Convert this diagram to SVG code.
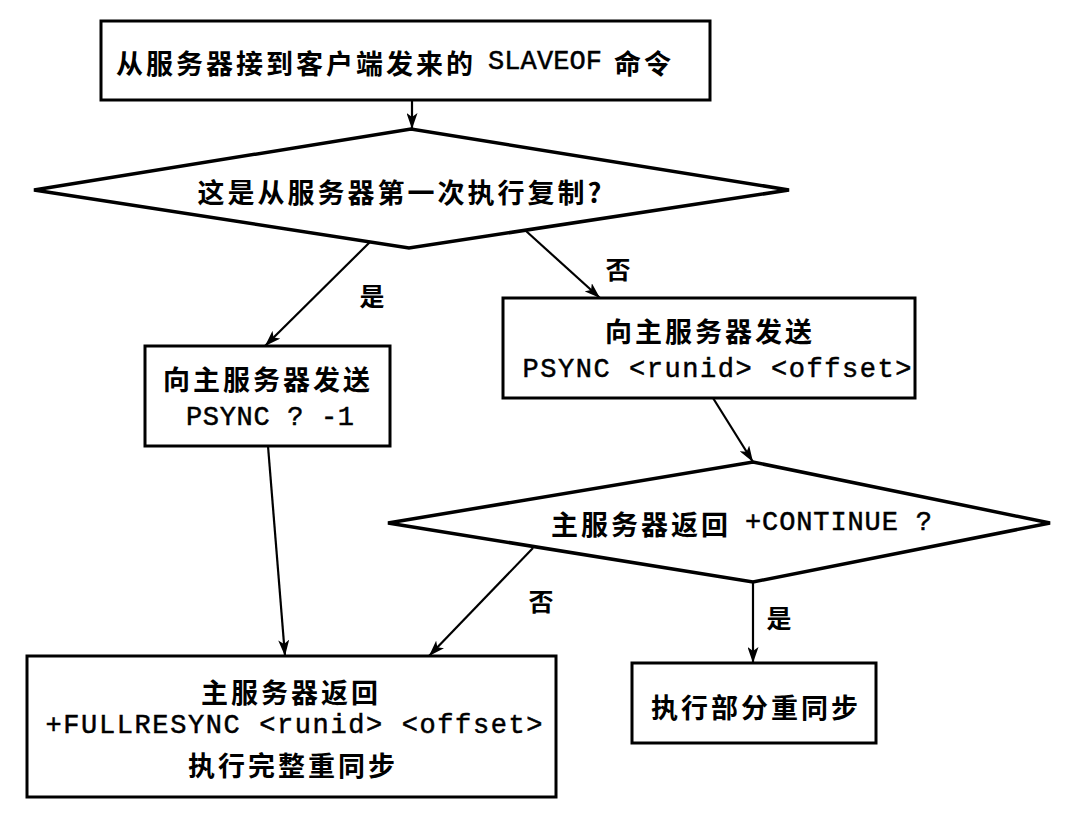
<svg xmlns="http://www.w3.org/2000/svg" width="1074" height="814" viewBox="0 0 1074 814">
<style>
.box{fill:#fff;stroke:#000;stroke-width:3}
.dia{fill:#fff;stroke:#000;stroke-width:3.5;stroke-linejoin:miter}
.cn{font-family:"Noto Sans CJK SC","Noto Sans CJK JP",sans-serif;font-weight:bold;font-size:27px;letter-spacing:3px;fill:#000;dominant-baseline:central}
.mono{font-family:"Liberation Mono","DejaVu Sans Mono",monospace;font-size:27px;fill:#000;stroke:#000;stroke-width:0.5;dominant-baseline:central}
.lbl{font-family:"Noto Sans CJK SC",sans-serif;font-weight:bold;font-size:25px;fill:#000;dominant-baseline:central;text-anchor:middle}
.c{stroke:#000;stroke-width:2.2;fill:none;marker-end:url(#ah)}
.m{text-anchor:middle}
</style>
<defs>
<marker id="ah" markerUnits="userSpaceOnUse" markerWidth="18" markerHeight="11" refX="16" refY="5.5" orient="auto">
<path d="M0,0 L16,5.5 L0,11 L4,5.5 z" fill="#000"/>
</marker>
</defs>
<rect width="1074" height="814" fill="#fff"/>
<g id="connectors">
<line class="c" x1="412" y1="100" x2="412" y2="129"/>
<line class="c" x1="370" y1="242" x2="265" y2="346"/>
<line class="c" x1="526" y1="231" x2="600" y2="298"/>
<line class="c" x1="713" y1="398" x2="753" y2="462"/>
<line class="c" x1="533" y1="548" x2="429" y2="656"/>
<line class="c" x1="753" y1="582" x2="753" y2="663"/>
<line class="c" x1="268" y1="446" x2="285" y2="656"/>
<text class="lbl" x="372" y="295">是</text>
<text class="lbl" x="618" y="268">否</text>
<text class="lbl" x="541" y="600">否</text>
<text class="lbl" x="779" y="617">是</text>
</g>
<g id="start">
<rect class="box" x="101" y="21" width="609" height="79"/>
<text class="cn" x="116" y="62">从服务器接到客户端发来的</text>
<text class="mono" x="488" y="62" textLength="114" lengthAdjust="spacing">SLAVEOF</text>
<text class="cn" x="614" y="62">命令</text>
</g>
<g id="first-time">
<polygon class="dia" points="34,190 411,129 789,190 409,248"/>
<text class="cn m" x="401" y="191">这是从服务器第一次执行复制?</text>
</g>
<g id="psync-full">
<rect class="box" x="145" y="346" width="245" height="100"/>
<text class="cn m" x="268" y="378">向主服务器发送</text>
<text class="mono m" x="270" y="418" textLength="168" lengthAdjust="spacing">PSYNC ? -1</text>
</g>
<g id="psync-partial">
<rect class="box" x="503" y="298" width="412" height="100"/>
<text class="cn m" x="710" y="330">向主服务器发送</text>
<text class="mono m" x="717" y="370" textLength="389" lengthAdjust="spacing">PSYNC &lt;runid&gt; &lt;offset&gt;</text>
</g>
<g id="continue">
<polygon class="dia" points="388,523 753,462 1050,523 753,582"/>
<text class="cn" x="551" y="523">主服务器返回</text>
<text class="mono" x="745" y="523" textLength="187" lengthAdjust="spacing">+CONTINUE ?</text>
</g>
<g id="full-resync">
<rect class="box" x="27" y="656" width="529" height="141"/>
<text class="cn m" x="291" y="691">主服务器返回</text>
<text class="mono m" x="294" y="726" textLength="497" lengthAdjust="spacing">+FULLRESYNC &lt;runid&gt; &lt;offset&gt;</text>
<text class="cn m" x="293" y="764">执行完整重同步</text>
</g>
<g id="partial-resync">
<rect class="box" x="632" y="663" width="244" height="80"/>
<text class="cn m" x="756" y="706">执行部分重同步</text>
</g>
</svg>
